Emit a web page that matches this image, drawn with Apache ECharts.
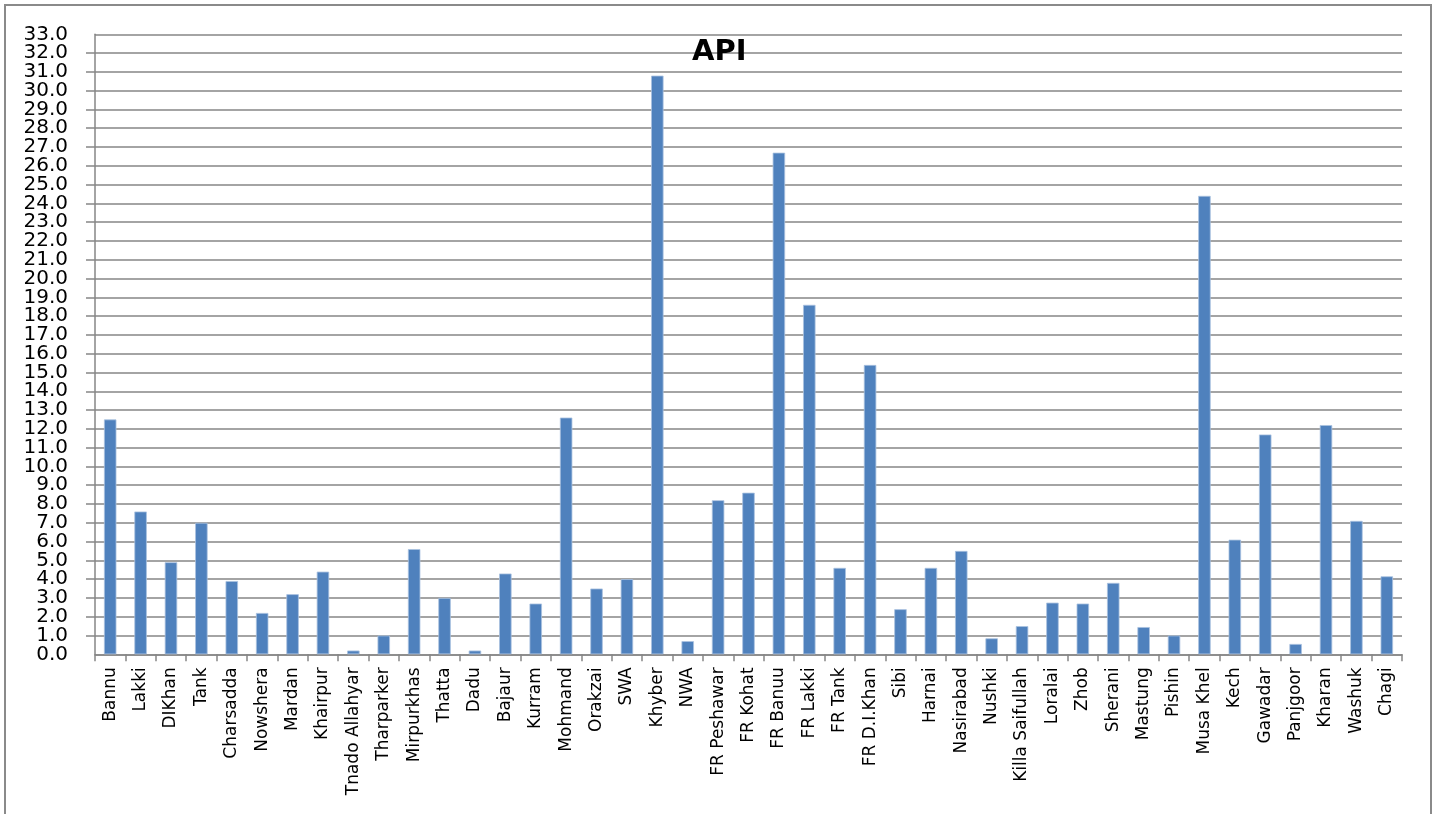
<!DOCTYPE html>
<html>
<head>
<meta charset="utf-8">
<title>API</title>
<script src="https://cdn.jsdelivr.net/npm/echarts@6/dist/echarts.min.js"></script>
<style>
  html, body { margin: 0; padding: 0; background: #ffffff; }
  #chart { width: 1436px; height: 814px; }
</style>
</head>
<body>
<div id="chart"></div>
<script>
// Districts / agencies shown along the horizontal axis
const categories = [
  'Bannu', 'Lakki', 'DIKhan', 'Tank', 'Charsadda', 'Nowshera', 'Mardan',
  'Khairpur', 'Tnado Allahyar', 'Tharparker', 'Mirpurkhas', 'Thatta', 'Dadu',
  'Bajaur', 'Kurram', 'Mohmand', 'Orakzai', 'SWA', 'Khyber', 'NWA',
  'FR Peshawar', 'FR Kohat', 'FR Banuu', 'FR Lakki', 'FR Tank', 'FR D.I.Khan',
  'Sibi', 'Harnai', 'Nasirabad', 'Nushki', 'Killa Saifullah', 'Loralai',
  'Zhob', 'Sherani', 'Mastung', 'Pishin', 'Musa Khel', 'Kech', 'Gawadar',
  'Panjgoor', 'Kharan', 'Washuk', 'Chagi'
];

// API value per district
const apiValues = [
  12.5, 7.6, 4.9, 7.0, 3.9, 2.2, 3.2,
  4.4, 0.2, 1.0, 5.6, 3.0, 0.2,
  4.3, 2.7, 12.6, 3.5, 4.0, 30.8, 0.7,
  8.2, 8.6, 26.7, 18.6, 4.6, 15.4,
  2.4, 4.6, 5.5, 0.85, 1.5, 2.75,
  2.7, 3.8, 1.45, 1.0, 24.4, 6.1, 11.7,
  0.55, 12.2, 7.1, 4.15
];

// Value axis range and step
const yMin = 0;
const yMax = 33;
const yStep = 1;

const gridColor = '#868686';
const labelFont = { fontFamily: 'DejaVu Sans', fontSize: 20, color: '#000000' };
const fmt = v => v.toFixed(1);

const chart = echarts.init(document.getElementById('chart'), null, { renderer: 'canvas' });

chart.setOption({
  backgroundColor: '#ffffff',
  animation: false,
  title: {
    text: 'API',
    left: 687,
    top: 33,
    textStyle: {
      fontFamily: 'DejaVu Sans',
      fontWeight: 'bold',
      fontSize: 29,
      color: '#000000'
    }
  },
  graphic: [{
    type: 'rect',
    silent: true,
    shape: { x: 5, y: 5, width: 1426, height: 840 },
    style: { fill: 'none', stroke: '#8a8a8a', lineWidth: 2 }
  }],
  grid: {
    left: 95,
    right: 34,
    top: 34.3,
    bottom: 159.7,
    containLabel: false
  },
  xAxis: {
    type: 'category',
    data: categories,
    boundaryGap: true,
    axisLine: { show: true, lineStyle: { color: gridColor, width: 1.5 } },
    axisTick: {
      show: true,
      alignWithLabel: false,
      length: 7,
      lineStyle: { color: gridColor, width: 1.5 }
    },
    axisLabel: {
      interval: 0,
      rotate: 90,
      margin: 13,
      hideOverlap: false,
      fontFamily: 'DejaVu Sans',
      fontSize: 17,
      color: '#000000'
    },
    splitLine: { show: false }
  },
  yAxis: [
    {
      // main value axis: line, ticks, grid and the inner labels
      type: 'value',
      min: yMin,
      max: yMax,
      interval: yStep,
      position: 'left',
      axisLine: { show: true, lineStyle: { color: gridColor, width: 1.5 } },
      axisTick: {
        show: true,
        inside: false,
        length: 9,
        lineStyle: { color: gridColor, width: 1.5 }
      },
      axisLabel: Object.assign({ margin: 27, formatter: fmt }, labelFont),
      splitLine: { show: true, lineStyle: { color: gridColor, width: 1.5 } }
    },
    {
      // same scale, only carries the end labels (0.0 and 33.0)
      type: 'value',
      min: yMin,
      max: yMax,
      interval: yStep,
      position: 'left',
      axisLine: { show: false },
      axisTick: { show: false },
      splitLine: { show: false },
      axisLabel: Object.assign({
        margin: 27,
        showMinLabel: true,
        showMaxLabel: true,
        formatter: v => (v === yMin || v === yMax) ? fmt(v) : ''
      }, labelFont)
    }
  ],
  series: [{
    type: 'bar',
    yAxisIndex: 0,
    data: apiValues,
    barWidth: '41%',
    itemStyle: {
      color: '#4f81bd',
      borderColor: '#a9c1df',
      borderWidth: 0.8
    }
  }]
});
</script>
</body>
</html>
